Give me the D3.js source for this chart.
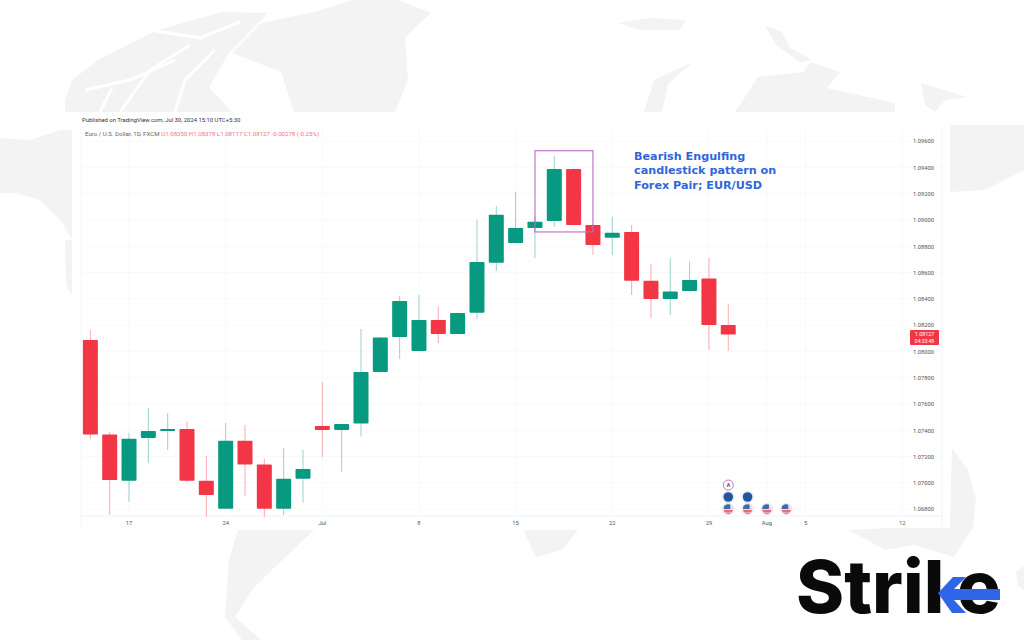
<!DOCTYPE html>
<html>
<head>
<meta charset=utf-8>
<title>Bearish Engulfing EUR/USD</title>
<style>
html, body{margin: 0; padding: 0; background: #fff;}
svg{display: block;}
text{font-family: Roboto, "Liberation Sans", sans-serif;}
.map{fill: #f3f3f3;}
.channel{fill: none; stroke: #fff; stroke-width: 3;}
.grid line{stroke: #f9f9fb; stroke-width: 1;}
.axis text{fill: #555; font-size: 5.8px;}
.axis path, .axis line{display: none;}
</style>
</head>
<body>
<div id=chart></div>
<script src='https://cdn.jsdelivr.net/npm/d3@7/dist/d3.min.js'></script>
<script>
//values, one entry per trading day, 13 Jun to 30 Jul 2024
var days = ['2024-06-13','2024-06-14','2024-06-17','2024-06-18','2024-06-19','2024-06-20','2024-06-21',
  '2024-06-24','2024-06-25','2024-06-26','2024-06-27','2024-06-28','2024-07-01','2024-07-02','2024-07-03',
  '2024-07-04','2024-07-05','2024-07-08','2024-07-09','2024-07-10','2024-07-11','2024-07-12','2024-07-15',
  '2024-07-16','2024-07-17','2024-07-18','2024-07-19','2024-07-22','2024-07-23','2024-07-24','2024-07-25',
  '2024-07-26','2024-07-29','2024-07-30'];
var opens = [1.08086,1.07367,1.07014,1.07341,1.07394,1.07409,1.07014,1.06801,1.07320,1.07138,1.06801,1.07031,
  1.07432,1.07402,1.07450,1.07843,1.08109,1.08003,1.08238,1.08132,1.08294,1.08674,1.08824,1.08938,1.08991,
  1.09387,1.08961,1.08864,1.08908,1.08537,1.08398,1.08459,1.08553,1.08200];
var highs = [1.08162,1.07386,1.07379,1.07569,1.07531,1.07465,1.07204,1.07455,1.07440,1.07181,1.07265,1.07249,
  1.07767,1.07451,1.08170,1.08109,1.08421,1.08428,1.08340,1.08295,1.08999,1.09106,1.09214,1.09029,1.09486,
  1.09391,1.08969,1.09024,1.08961,1.08664,1.08710,1.08682,1.08710,1.08360];
var lows = [1.07333,1.06755,1.06854,1.07151,1.07249,1.07006,1.06742,1.06797,1.06902,1.06742,1.06755,1.06849,
  1.07196,1.07084,1.07351,1.07839,1.07942,1.07999,1.08063,1.08128,1.08246,1.08611,1.08820,1.08710,1.08946,
  1.08957,1.08733,1.08733,1.08428,1.08254,1.08276,1.08455,1.08010,1.08003];
var closes = [1.07367,1.07021,1.07335,1.07394,1.07409,1.07014,1.06907,1.07320,1.07138,1.06801,1.07031,1.07105,
  1.07402,1.07447,1.07843,1.08104,1.08383,1.08238,1.08132,1.08292,1.08680,1.09039,1.08938,1.08986,1.09387,
  1.08961,1.08809,1.08902,1.08537,1.08398,1.08454,1.08543,1.08200,1.08127];

//weekdays still to come, only there to carry the time axis
var futureDays = ['2024-07-31','2024-08-01','2024-08-02','2024-08-05','2024-08-06','2024-08-07','2024-08-08','2024-08-09','2024-08-12'];
var tickDays = ['2024-06-17','2024-06-24','2024-07-01','2024-07-08','2024-07-15','2024-07-22','2024-07-29','2024-08-01','2024-08-05','2024-08-12'];
var tickLabels = ['17','24','Jul','8','15','22','29','Aug','5','12'];
var priceTicks = [1.096,1.094,1.092,1.090,1.088,1.086,1.084,1.082,1.080,1.078,1.076,1.074,1.072,1.070,1.068];

var flagDays = ['2024-07-30','2024-07-31','2024-08-01','2024-08-02'];
var euroDays = ['2024-07-30','2024-07-31'];
var earningsDays = ['2024-07-30'];

var width = 1024, height = 640;
var plot = {left: 80.7, right: 911.9, top: 141, bottom: 509};
var green = '#089981', red = '#f23645';

var x = d3.scaleBand().domain(days.concat(futureDays)).range([plot.left, plot.right]);
var y = d3.scaleLinear().domain([1.096, 1.068]).range([plot.top, plot.bottom]);
var cx = d => x(d) + x.bandwidth()/2;

var svg = d3.select('#chart').append('svg').attr('width', width).attr('height', height);

//faint world map behind everything, rough outlines only
var mapShapes = [
  'M353 0L399 0L431 13L405 37L408 80L395 112L294 112L281 72L232 53L261 23L314 12Z',
  'M72 80L98 60L157 30L222 12L268 13L229 53L209 87L232 112L65 112L65 100Z',
  'M644 112L654 80L693 62L668 84L662 112Z',
  'M735 112L758 77L804 72L810 62L840 72L827 88L895 103L895 112Z',
  'M765 25L782 32L790 48L812 60L800 62L776 45Z',
  'M618 23L650 18L686 20L680 30L640 30Z',
  'M921 83L967 97L945 100L935 112L925 105Z',
  'M0 138L30 140L60 130L72 130L72 240L62 222L40 200L15 193L0 193Z',
  'M65 240L72 240L72 295L66 285Z',
  'M950 125L1024 125L1024 170L985 190L950 192Z',
  'M952 448L968 470L976 500L973 527L954 557L915 545L885 550L849 530L950 525Z',
  'M238 530L314 530L275 567L252 590L235 617L261 640L242 640L225 617L229 560Z',
  'M523 530L578 530L562 550L536 557Z',
  'M1016 572L1024 566L1024 590L1018 586Z'
];
var mapChannels = [
  'M120 112L150 70L190 45',
  'M85 90L130 80L175 60',
  'M175 112L185 80L215 50',
  'M100 112L112 88',
  'M150 30L200 38L240 22'
];
svg.append('g').selectAll('path')
    .data(mapShapes)
  .enter().append('path')
    .attr('class', 'map')
    .attr('d', d => d);
svg.append('g').selectAll('path')
    .data(mapChannels)
  .enter().append('path')
    .attr('class', 'channel')
    .attr('d', d => d);

//white sheet the chart sits on
svg.append('rect')
    .attr('x', 72).attr('y', 112)
    .attr('width', 878).attr('height', 416)
    .attr('fill', '#fff');

//gridlines
var grid = svg.append('g').attr('class', 'grid');
grid.selectAll('.gh')
    .data(priceTicks)
  .enter().append('line')
    .attr('class', 'gh')
    .attr('x1', 81).attr('x2', 942)
    .attr('y1', d => y(d)).attr('y2', d => y(d));
grid.selectAll('.gv')
    .data(tickDays)
  .enter().append('line')
    .attr('class', 'gv')
    .attr('x1', cx).attr('x2', cx)
    .attr('y1', 127).attr('y2', 516);

svg.append('line')
    .attr('x1', 81).attr('x2', 942)
    .attr('y1', 516).attr('y2', 516)
    .attr('stroke', '#f0f1f4');
svg.append('line')
    .attr('x1', 942).attr('x2', 942)
    .attr('y1', 127).attr('y2', 528)
    .attr('stroke', '#f4f5f7');
svg.append('line')
    .attr('x1', 81).attr('x2', 81)
    .attr('y1', 127).attr('y2', 528)
    .attr('stroke', '#f4f5f7');

//axes
svg.append('g')
    .attr('class', 'axis')
    .attr('transform', 'translate(0,516)')
    .call(d3.axisBottom(x)
      .tickValues(tickDays)
      .tickSize(0).tickPadding(5)
      .tickFormat((d, i) => tickLabels[i]));

svg.append('g')
    .attr('class', 'axis')
    .attr('transform', 'translate(913,0)')
    .call(d3.axisRight(y)
      .tickValues(priceTicks)
      .tickSize(0).tickPadding(0)
      .tickFormat(d3.format('.5f')));

//candles
var candles = svg.append('g').selectAll('g')
    .data(days)
  .enter().append('g')
    .attr('fill', (d, i) => closes[i] < opens[i] ? red : green)
    .attr('stroke', (d, i) => closes[i] < opens[i] ? red : green);

candles.append('line')
    .attr('x1', cx).attr('x2', cx)
    .attr('y1', (d, i) => y(highs[i]))
    .attr('y2', (d, i) => y(lows[i]))
    .attr('stroke-opacity', 0.42);

candles.append('rect')
    .attr('x', d => cx(d) - 7.5)
    .attr('width', 15)
    .attr('y', (d, i) => y(Math.max(opens[i], closes[i])))
    .attr('height', (d, i) => Math.abs(y(opens[i]) - y(closes[i])))
    .attr('rx', 0.8)
    .attr('stroke', 'none');

//box round the engulfing pair
svg.append('rect')
    .attr('x', cx('2024-07-16'))
    .attr('width', cx('2024-07-19') - cx('2024-07-16'))
    .attr('y', y(1.09526))
    .attr('height', y(1.08908) - y(1.09526))
    .attr('fill', 'none')
    .attr('stroke', '#b96fc4')
    .attr('stroke-width', 1.1);

svg.append('g').selectAll('text')
    .data(['Bearish Engulfing', 'candlestick pattern on', 'Forex Pair; EUR/USD'])
  .enter().append('text')
    .attr('x', 634)
    .attr('y', (d, i) => 160 + i*14.3)
    .attr('fill', '#2f66dc')
    .style('font-family', '"DejaVu Sans", sans-serif')
    .style('font-size', '11.2px')
    .style('font-weight', 700)
    .text(d => d);

//header lines
svg.append('text')
    .attr('x', 82).attr('y', 121.5)
    .attr('fill', '#333')
    .style('font-size', '5.9px')
    .text('Published on TradingView.com, Jul 30, 2024 15:10 UTC+5:30');

var legend = svg.append('text')
    .attr('x', 85).attr('y', 135.5)
    .style('font-size', '6.1px');
legend.append('tspan').attr('fill', '#666').text('Euro / U.S. Dollar, 1D, FXCM  ');
legend.append('tspan').attr('fill', '#f2708a').text('O1.08350  H1.08378  L1.08117  C1.08127  -0.00278 (-0.25%)');

//last price tag
var lastPrice = closes[closes.length - 1];
svg.append('rect')
    .attr('x', 910).attr('width', 29)
    .attr('y', y(lastPrice) - 4.5).attr('height', 15)
    .attr('rx', 1)
    .attr('fill', red);
svg.append('text')
    .attr('x', 924.5).attr('y', y(lastPrice) + 1.8)
    .attr('text-anchor', 'middle')
    .attr('fill', '#fff')
    .style('font-size', '5.4px')
    .text(d3.format('.5f')(lastPrice));
svg.append('text')
    .attr('x', 924.5).attr('y', y(lastPrice) + 8.3)
    .attr('text-anchor', 'middle')
    .attr('fill', '#fff')
    .style('font-size', '5px')
    .text('04:33:48');

//event markers under the bars
var defs = svg.append('defs');
defs.append('clipPath').attr('id', 'flagclip')
  .append('circle').attr('r', 4.8);

var flags = svg.append('g').selectAll('g')
    .data(flagDays)
  .enter().append('g')
    .attr('transform', d => 'translate(' + cx(d) + ',509)');
flags.append('circle').attr('r', 5.6).attr('fill', '#fff').attr('stroke', '#e4c8d6').attr('stroke-width', 0.6);
var flagInner = flags.append('g').attr('clip-path', 'url(#flagclip)');
flagInner.append('rect').attr('x', -5).attr('y', -5).attr('width', 10).attr('height', 10).attr('fill', '#f3d9de');
flagInner.append('rect').attr('x', -5).attr('y', -5).attr('width', 7).attr('height', 5).attr('fill', '#3a6ea8');
flagInner.append('rect').attr('x', -5).attr('y', 1.2).attr('width', 10).attr('height', 1.6).attr('fill', '#e8505f');
flagInner.append('rect').attr('x', -5).attr('y', 3.6).attr('width', 10).attr('height', 1.6).attr('fill', '#e8505f');

var euros = svg.append('g').selectAll('g')
    .data(euroDays)
  .enter().append('g')
    .attr('transform', d => 'translate(' + cx(d) + ',497)');
euros.append('circle').attr('r', 5.6).attr('fill', '#fff').attr('stroke', '#c5cfe6').attr('stroke-width', 0.6);
euros.append('circle').attr('r', 4.8).attr('fill', '#1d58a8');
euros.append('circle').attr('r', 2).attr('fill', '#3d4f78');

var earnings = svg.append('g').selectAll('g')
    .data(earningsDays)
  .enter().append('g')
    .attr('transform', d => 'translate(' + cx(d) + ',485)');
earnings.append('circle').attr('r', 5).attr('fill', '#fff').attr('stroke', '#b868c8').attr('stroke-width', 0.9);
earnings.append('text')
    .attr('y', 2).attr('text-anchor', 'middle')
    .attr('fill', '#7a4a90')
    .style('font-size', '5.6px').style('font-weight', 700)
    .text('A');

//logo
var logo = svg.append('g').attr('fill', '#0a0a0a');
logo.append('text')
    .attr('x', 796).attr('y', 613)
    .style('font-family', 'Inter, Roboto, sans-serif')
    .style('font-size', '73px').style('font-weight', 800)
    .text('Stril');
logo.append('text')
    .attr('x', 957).attr('y', 613)
    .style('font-family', 'Inter, Roboto, sans-serif')
    .style('font-size', '73px').style('font-weight', 800)
    .text('e');
svg.append('path')
    .attr('fill', '#2f66e8')
    .attr('d', 'M938 593L953 577L966 577L954 589L1000 589L1000 600L954 600L966 613L952 613Z');
</script>
</body>
</html>
